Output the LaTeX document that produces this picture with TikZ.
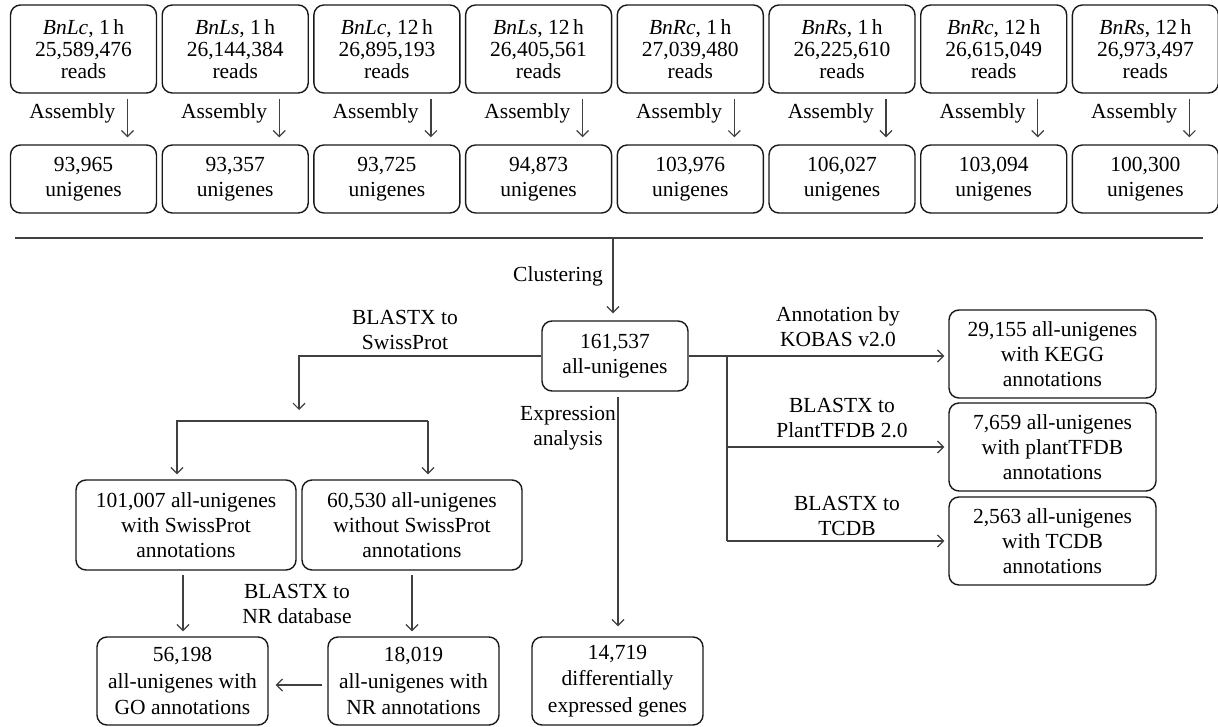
\documentclass[tikz,border=0pt]{standalone}
\usepackage{fontspec}
\setmainfont{Liberation Serif}
\usetikzlibrary{arrows.meta,calc}
\begin{document}
\begin{tikzpicture}[x=1pt,y=-1pt,
 box/.style={draw=black!90, line width=1.4pt, rounded corners=10pt, align=center, inner sep=0pt, font=\fontsize{21.5}{25}\selectfont},
 topbox/.style={box, minimum width=146pt, font=\fontsize{21.5}{22}\selectfont},
 lab/.style={align=center, inner sep=0pt, font=\fontsize{21.5}{25}\selectfont},
 conn/.style={draw=black!75, line width=1.2pt},
 arr/.style={conn, -{Straight Barb[length=6pt,width=12pt,line width=1.2pt]}},
]
\useasboundingbox (0,0) rectangle (1218,727);

% top row
\node[topbox, minimum height=88pt] (t1) at (83.5,49) {\textit{BnLc}, 1\,h\\25,589,476\\reads};
\node[topbox, minimum height=88pt] (t2) at (235.2,49) {\textit{BnLs}, 1\,h\\26,144,384\\reads};
\node[topbox, minimum height=88pt] (t3) at (386.9,49) {\textit{BnLc}, 12\,h\\26,895,193\\reads};
\node[topbox, minimum height=88pt] (t4) at (538.6,49) {\textit{BnLs}, 12\,h\\26,405,561\\reads};
\node[topbox, minimum height=88pt] (t5) at (690.3,49) {\textit{BnRc}, 1\,h\\27,039,480\\reads};
\node[topbox, minimum height=88pt] (t6) at (842.0,49) {\textit{BnRs}, 1\,h\\26,225,610\\reads};
\node[topbox, minimum height=88pt] (t7) at (993.7,49) {\textit{BnRc}, 12\,h\\26,615,049\\reads};
\node[topbox, minimum height=88pt] (t8) at (1145.4,49) {\textit{BnRs}, 12\,h\\26,973,497\\reads};

\node[topbox, minimum height=68pt, font=\fontsize{21.5}{25}\selectfont] (u1) at (83.5,179) {93,965\\unigenes};
\node[topbox, minimum height=68pt, font=\fontsize{21.5}{25}\selectfont] (u2) at (235.2,179) {93,357\\unigenes};
\node[topbox, minimum height=68pt, font=\fontsize{21.5}{25}\selectfont] (u3) at (386.9,179) {93,725\\unigenes};
\node[topbox, minimum height=68pt, font=\fontsize{21.5}{25}\selectfont] (u4) at (538.6,179) {94,873\\unigenes};
\node[topbox, minimum height=68pt, font=\fontsize{21.5}{25}\selectfont] (u5) at (690.3,179) {103,976\\unigenes};
\node[topbox, minimum height=68pt, font=\fontsize{21.5}{25}\selectfont] (u6) at (842.0,179) {106,027\\unigenes};
\node[topbox, minimum height=68pt, font=\fontsize{21.5}{25}\selectfont] (u7) at (993.7,179) {103,094\\unigenes};
\node[topbox, minimum height=68pt, font=\fontsize{21.5}{25}\selectfont] (u8) at (1145.4,179) {100,300\\unigenes};

\foreach \i in {1,...,8} {
  \draw[arr] ($(t\i.south)+(44,5)$) -- ($(u\i.north)+(44,-7)$);
  \node[lab, anchor=east] (a\i) at ($(t\i.south)+(32,20)$) {Assembly};
}

% separator
\coordinate (sl) at (15,238);
\coordinate (sr) at (1203,238);
\draw[conn] (sl) -- (sr);

% central
\node[box, minimum width=146pt, minimum height=70pt] (c) at (615,356) {161,537\\all-unigenes};
\coordinate (cl) at (613,238);
\draw[arr, shorten >=7pt] (cl) -- (cl |- c.north);
\node[lab, anchor=east] (clab) at (603,276) {Clustering};

% left branch
\coordinate (sp) at (299,410);
\draw[arr] (c.west) -| (sp);
\node[lab] (swlab) at (405,330) {BLASTX to\\SwissProt};

\node[box, minimum width=220pt, minimum height=90pt] (ws) at (186,525) {101,007 all-unigenes\\with SwissProt\\annotations};
\node[box, minimum width=220pt, minimum height=90pt] (wo) at (412,525) {60,530 all-unigenes\\without SwissProt\\annotations};

\coordinate (bl) at (177,421);
\coordinate (bri) at (428,421);
\draw[arr, shorten >=5pt] (bri) -- (bl) -- (bl |- ws.north);
\draw[arr, shorten >=5pt] (bri) -- (bri |- wo.north);

\node[box, minimum width=171pt, minimum height=88pt, font=\fontsize{21.5}{26.5}\selectfont] (go) at (182.5,681) {56,198\\all-unigenes with\\GO annotations};
\node[box, minimum width=171pt, minimum height=88pt, font=\fontsize{21.5}{26.5}\selectfont] (nr) at (413.5,681) {18,019\\all-unigenes with\\NR annotations};
\node[box, minimum width=171pt, minimum height=88pt, font=\fontsize{21.5}{26.5}\selectfont] (deg) at (617.5,681) {14,719\\differentially\\expressed genes};

\coordinate (gx) at (183,570);
\coordinate (nx) at (412,570);
\draw[arr, shorten <=5pt, shorten >=5pt] (gx) -- (gx |- go.north);
\draw[arr, shorten <=5pt, shorten >=5pt] (nx) -- (nx |- nr.north);
\node[lab] (nrlab) at (297,604) {BLASTX to\\NR database};
\draw[arr, shorten <=5pt, shorten >=7pt] ($(nr.west)+(0,4)$) -- ($(go.east)+(0,4)$);

% expression
\coordinate (ex) at (618,391);
\draw[arr, shorten <=6pt, shorten >=10pt] (ex) -- (ex |- deg.north);
\node[lab] (exlab) at (568,428) {Expression\\analysis};

% right branch
\node[box, minimum width=207pt, minimum height=88pt] (kg) at (1052.5,354) {29,155 all-unigenes\\with KEGG\\annotations};
\node[box, minimum width=207pt, minimum height=88pt] (tf) at (1052.5,447) {7,659 all-unigenes\\with plantTFDB\\annotations};
\node[box, minimum width=207pt, minimum height=88pt] (tc) at (1052.5,541) {2,563 all-unigenes\\with TCDB\\annotations};

\coordinate (tr) at (727,356);
\coordinate (tb) at (727,541);
\draw[arr, shorten >=4pt] (c.east) -- (kg.west |- c.east);
\draw[conn] (tr) -- (tb);
\draw[arr, shorten >=4pt] (tr |- tf.west) -- (tf.west);
\draw[arr, shorten >=4pt] (tb) -- (tc.west);
\node[lab] (kglab) at (838,327) {Annotation by\\KOBAS v2.0};
\node[lab] (tflab) at (842,418) {BLASTX to\\PlantTFDB 2.0};
\node[lab] (tclab) at (847,516) {BLASTX to\\TCDB};
\end{tikzpicture}
\end{document}
